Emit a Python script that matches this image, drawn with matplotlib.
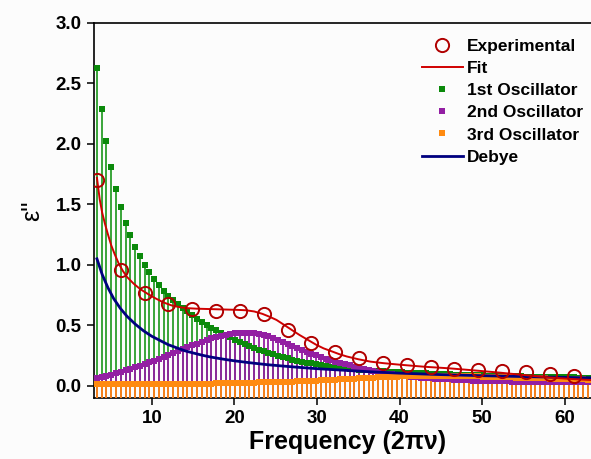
import matplotlib
matplotlib.use("Agg")
import matplotlib.pyplot as plt
from matplotlib.lines import Line2D

plt.rcParams['font.family'] = ['Liberation Sans', 'DejaVu Sans']

# frequency grid of the oscillator / Debye components
freq = [3.36, 3.94, 4.51, 5.09, 5.67, 6.25, 6.82, 7.40, 7.98, 8.55,
        9.13, 9.71, 10.28, 10.86, 11.44, 12.02, 12.59, 13.17, 13.75, 14.32,
        14.90, 15.48, 16.05, 16.63, 17.21, 17.79, 18.36, 18.94, 19.52, 20.09,
        20.67, 21.25, 21.82, 22.40, 22.98, 23.56, 24.13, 24.71, 25.29, 25.86,
        26.44, 27.02, 27.59, 28.17, 28.75, 29.33, 29.90, 30.48, 31.06, 31.63,
        32.21, 32.79, 33.36, 33.94, 34.52, 35.10, 35.67, 36.25, 36.83, 37.40,
        37.98, 38.56, 39.13, 39.71, 40.29, 40.87, 41.44, 42.02, 42.60, 43.17,
        43.75, 44.33, 44.90, 45.48, 46.06, 46.64, 47.21, 47.79, 48.37, 48.94,
        49.52, 50.10, 50.67, 51.25, 51.83, 52.41, 52.98, 53.56, 54.14, 54.71,
        55.29, 55.87, 56.44, 57.02, 57.60, 58.18, 58.75, 59.33, 59.91, 60.48,
        61.06, 61.64, 62.21, 62.79]

osc1 = [2.63, 2.29, 2.02, 1.81, 1.63, 1.48, 1.35, 1.25, 1.15, 1.07,
        1.00, 0.94, 0.88, 0.83, 0.785, 0.745, 0.71, 0.675, 0.645, 0.615,
        0.585, 0.555, 0.53, 0.505, 0.48, 0.46, 0.44, 0.42, 0.40, 0.38,
        0.36, 0.345, 0.33, 0.315, 0.30, 0.285, 0.272, 0.26, 0.248, 0.237,
        0.227, 0.217, 0.208, 0.20, 0.192, 0.185, 0.178, 0.171, 0.165, 0.159,
        0.154, 0.149, 0.144, 0.140, 0.137, 0.134, 0.131, 0.128, 0.125, 0.123,
        0.120, 0.118, 0.116, 0.114, 0.112, 0.110, 0.108, 0.106, 0.104, 0.103,
        0.101, 0.099, 0.098, 0.096, 0.095, 0.093, 0.092, 0.091, 0.089, 0.088,
        0.087, 0.086, 0.085, 0.084, 0.083, 0.082, 0.081, 0.080, 0.079, 0.078,
        0.077, 0.076, 0.075, 0.075, 0.074, 0.073, 0.072, 0.072, 0.071, 0.070,
        0.070, 0.069, 0.068, 0.068]

osc2 = [0.065, 0.074, 0.083, 0.093, 0.104, 0.115, 0.127, 0.140, 0.153, 0.166,
        0.180, 0.194, 0.208, 0.223, 0.238, 0.254, 0.270, 0.286, 0.302, 0.318,
        0.334, 0.350, 0.365, 0.379, 0.392, 0.404, 0.414, 0.423, 0.430, 0.436,
        0.440, 0.441, 0.440, 0.436, 0.429, 0.420, 0.410, 0.397, 0.382, 0.366,
        0.350, 0.333, 0.316, 0.299, 0.283, 0.267, 0.252, 0.238, 0.225, 0.213,
        0.201, 0.190, 0.179, 0.169, 0.159, 0.150, 0.141, 0.132, 0.124, 0.116,
        0.109, 0.102, 0.096, 0.090, 0.085, 0.080, 0.076, 0.072, 0.068, 0.065,
        0.062, 0.059, 0.057, 0.055, 0.053, 0.051, 0.049, 0.047, 0.046, 0.044,
        0.043, 0.042, 0.041, 0.040, 0.039, 0.038, 0.037, 0.036, 0.036, 0.035,
        0.034, 0.034, 0.033, 0.033, 0.032, 0.032, 0.031, 0.031, 0.030, 0.030,
        0.029, 0.029, 0.028, 0.028]

osc3 = [0.012, 0.012, 0.012, 0.012, 0.012, 0.013, 0.013, 0.013, 0.013, 0.013,
        0.014, 0.014, 0.014, 0.015, 0.015, 0.015, 0.016, 0.016, 0.016, 0.017,
        0.017, 0.018, 0.018, 0.019, 0.019, 0.020, 0.021, 0.021, 0.022, 0.023,
        0.024, 0.025, 0.026, 0.027, 0.028, 0.029, 0.030, 0.031, 0.032, 0.033,
        0.035, 0.036, 0.038, 0.039, 0.041, 0.042, 0.044, 0.046, 0.048, 0.050,
        0.052, 0.054, 0.056, 0.058, 0.060, 0.062, 0.064, 0.066, 0.068, 0.070,
        0.072, 0.074, 0.076, 0.077, 0.079, 0.080, 0.081, 0.082, 0.083, 0.083,
        0.084, 0.084, 0.084, 0.083, 0.083, 0.082, 0.082, 0.081, 0.080, 0.079,
        0.078, 0.077, 0.076, 0.075, 0.074, 0.073, 0.071, 0.070, 0.069, 0.068,
        0.066, 0.065, 0.064, 0.063, 0.062, 0.060, 0.059, 0.058, 0.057, 0.056,
        0.055, 0.054, 0.053, 0.052]

# measured loss
freq_exp = [3.36, 6.25, 9.13, 12.02, 14.90, 17.79, 20.67, 23.56, 26.44, 29.33,
            32.21, 35.10, 37.98, 40.87, 43.75, 46.64, 49.52, 52.41, 55.29, 58.18,
            61.06]
eps_exp = [1.70, 0.96, 0.765, 0.68, 0.635, 0.62, 0.615, 0.59, 0.465, 0.353,
           0.28, 0.23, 0.19, 0.17, 0.155, 0.14, 0.13, 0.12, 0.115, 0.10,
           0.085]

# fitted curve
freq_fit = [3.36, 3.7, 4.0, 4.33, 4.7, 5.1, 5.5, 6.0, 6.5, 7.0,
            7.8, 8.6, 9.4, 10.4, 11.4, 12.4, 13.4, 14.4, 15.4, 16.4,
            17.4, 18.4, 19.4, 20.4, 21.4, 22.4, 23.4, 24.3, 25.1, 26.0,
            27.0, 27.9, 28.9, 29.9, 30.8, 31.8, 32.7, 33.6, 35.0, 36.5,
            38.0, 40.0, 43.0, 46.0, 49.0, 52.0, 55.0, 58.0, 61.0, 63.5]
eps_fit = [1.72, 1.54, 1.43, 1.34, 1.25, 1.16, 1.09, 1.01, 0.95, 0.90,
           0.845, 0.80, 0.765, 0.725, 0.69, 0.665, 0.65, 0.642, 0.638, 0.636,
           0.634, 0.632, 0.63, 0.628, 0.625, 0.615, 0.595, 0.57, 0.545, 0.505,
           0.46, 0.42, 0.38, 0.34, 0.31, 0.285, 0.262, 0.243, 0.22, 0.20,
           0.188, 0.175, 0.158, 0.145, 0.128, 0.11, 0.09, 0.07, 0.056, 0.047]

# Debye relaxation term
freq_debye = [3.36, 4.0, 4.7, 5.4, 6.2, 7.0, 8.0, 9.0, 10.0, 11.0,
              12.0, 13.0, 14.0, 15.0, 16.0, 17.0, 18.0, 19.0, 20.0, 22.0,
              24.0, 26.0, 28.0, 30.0, 33.0, 36.0, 40.0, 45.0, 50.0, 55.0,
              60.0, 63.5]
eps_debye = [1.05, 0.92, 0.81, 0.72, 0.64, 0.575, 0.51, 0.455, 0.41, 0.375,
             0.34, 0.315, 0.29, 0.272, 0.255, 0.24, 0.228, 0.217, 0.207, 0.19,
             0.175, 0.163, 0.152, 0.142, 0.13, 0.118, 0.105, 0.093, 0.084, 0.077,
             0.07, 0.066]

GREEN = '#2a9e2a'
GREEN_DARK = '#0b8a0b'
PURPLE = '#931fa3'
ORANGE = '#ff8a10'
NAVY = '#00007f'
RED = '#d00000'
CIRCLE = '#b00000'

ymin, ymax = -0.1, 3.0

fig = plt.figure(figsize=(5.91, 4.59), dpi=100)
fig.patch.set_facecolor('#fcfcfc')
ax = fig.add_axes([0.159, 0.133, 0.8455, 0.817])
ax.set_facecolor('#fcfcfc')

# drop lines for each oscillator, then the square symbols
ax.vlines(freq, ymin, osc1, color=GREEN, lw=1.3, zorder=2)
ax.vlines(freq, ymin, osc2, color=PURPLE, lw=1.3, zorder=3)
ax.vlines(freq, ymin, osc3, color=ORANGE, lw=1.3, zorder=4)
ax.plot(freq, osc1, 's', color=GREEN_DARK, ms=4.3, mew=0, zorder=5)
ax.plot(freq, osc2, 's', color=PURPLE, ms=4.8, mew=0, zorder=6)
ax.plot(freq, osc3, 's', color=ORANGE, ms=4.8, mew=0, zorder=7)

ax.plot(freq_debye, eps_debye, '-', color=NAVY, lw=2.0, zorder=8)
ax.plot(freq_fit, eps_fit, '-', color=RED, lw=1.4, zorder=9)
ax.plot(freq_exp, eps_exp, 'o', mfc='none', mec=CIRCLE, ms=9.5, mew=1.4, zorder=10)

ax.set_xlim(3, 63.5)
ax.set_ylim(ymin, ymax)
ax.set_xticks([10, 20, 30, 40, 50, 60])
ax.set_yticks([0.0, 0.5, 1.0, 1.5, 2.0, 2.5, 3.0])
ax.set_yticklabels(['0.0', '0.5', '1.0', '1.5', '2.0', '2.5', '3.0'])
ax.tick_params(direction='out', length=5, width=1.1, labelsize=13.5, pad=4)
for lab in ax.get_xticklabels() + ax.get_yticklabels():
    lab.set_fontweight('bold')
for sp in ax.spines.values():
    sp.set_linewidth(1.2)

ax.set_xlabel('Frequency (2\u03c0\u03bd)', fontsize=18, fontweight='bold', labelpad=1)
ax.xaxis.set_label_coords(0.5 + 4 / 500, -0.085)
ax.set_ylabel("\u03b5''", fontsize=18, labelpad=8)

handles = [
    Line2D([], [], ls='none', marker='o', mfc='none', mec=CIRCLE, ms=9.5, mew=1.4),
    Line2D([], [], color=RED, lw=1.4),
    Line2D([], [], ls='none', marker='s', color=GREEN_DARK, ms=4.3, mew=0),
    Line2D([], [], ls='none', marker='s', color=PURPLE, ms=4.8, mew=0),
    Line2D([], [], ls='none', marker='s', color=ORANGE, ms=4.8, mew=0),
    Line2D([], [], color=NAVY, lw=2.0),
]
labels = ['Experimental', 'Fit', '1st Oscillator', '2nd Oscillator',
          '3rd Oscillator', 'Debye']
ax.legend(handles, labels, loc='upper right', bbox_to_anchor=(1.0, 0.985),
          frameon=False, prop={'weight': 'bold', 'size': 12.5},
          handlelength=2.35, handletextpad=0.25, labelspacing=0.4,
          borderaxespad=0.2)

fig.savefig('out.png', dpi=100, facecolor=fig.get_facecolor())
